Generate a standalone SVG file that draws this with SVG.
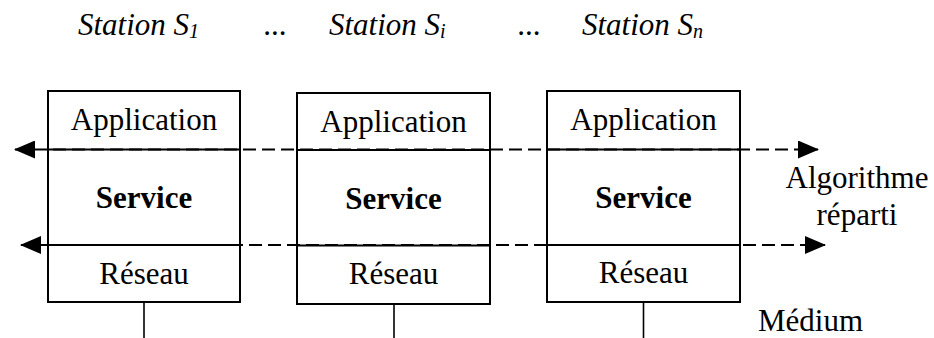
<svg xmlns="http://www.w3.org/2000/svg" width="934" height="338" viewBox="0 0 934 338">
  <style>
    text { font-family: "Liberation Serif", "Times New Roman", serif; font-size: 31px; fill: #000; }
    .title { font-style: italic; }
    .bold { font-weight: bold; }
    .mid { text-anchor: middle; }
    .box { fill: #fff; stroke: #000; stroke-width: 2; }
    .div { stroke: #000; stroke-width: 2; fill: none; }
    .wire { stroke: #000; stroke-width: 1.6; fill: none; }
    .flow { stroke: #000; stroke-width: 2; fill: none; stroke-dasharray: 13 6; }
  </style>
  <defs>
    <marker id="head" markerUnits="userSpaceOnUse" markerWidth="21" markerHeight="18" viewBox="0 0 21 18" refX="20" refY="9" orient="auto-start-reverse">
      <path d="M0,0 L21,9 L0,18 Z" fill="#000"/>
    </marker>
  </defs>

  <!-- station headings -->
  <g id="headings">
    <text class="title" x="78" y="35">Station S<tspan font-size="20" dy="3">1</tspan></text>
    <text class="title" x="264" y="35">...</text>
    <text class="title" x="329" y="35">Station S<tspan font-size="20" dy="3">i</tspan></text>
    <text class="title" x="518" y="35">...</text>
    <text class="title" x="582" y="35">Station S<tspan font-size="20" dy="3">n</tspan></text>
  </g>

  <!-- station 1 -->
  <g id="station1">
    <rect class="box" x="48" y="91" width="192" height="211"/>
    <line class="div" x1="48" y1="149.5" x2="240" y2="149.5"/>
    <line class="div" x1="48" y1="245" x2="240" y2="245"/>
    <text class="mid" x="144" y="130">Application</text>
    <text class="mid bold" x="144" y="208">Service</text>
    <text class="mid" x="144" y="284">Réseau</text>
  </g>

  <!-- station i -->
  <g id="stationi">
    <rect class="box" x="297" y="93" width="193" height="211"/>
    <line class="div" x1="297" y1="150" x2="490" y2="150"/>
    <line class="div" x1="297" y1="245.5" x2="490" y2="245.5"/>
    <text class="mid" x="393.5" y="131.5">Application</text>
    <text class="mid bold" x="393.5" y="209">Service</text>
    <text class="mid" x="393.5" y="284">Réseau</text>
  </g>

  <!-- station n -->
  <g id="stationn">
    <rect class="box" x="547" y="91" width="193" height="211"/>
    <line class="div" x1="547" y1="149.5" x2="740" y2="149.5"/>
    <line class="div" x1="547" y1="245" x2="740" y2="245"/>
    <text class="mid" x="643.5" y="130">Application</text>
    <text class="mid bold" x="643.5" y="208">Service</text>
    <text class="mid" x="643.5" y="283">Réseau</text>
  </g>

  <!-- side labels -->
  <g id="labels">
    <text class="mid" x="857" y="188">Algorithme</text>
    <text class="mid" x="857" y="225">réparti</text>
    <text x="758" y="331">Médium</text>
  </g>

  <!-- connectors: distributed-algorithm flows and medium drops -->
  <g id="connectors">
    <line class="flow" x1="15" y1="149.5" x2="818" y2="149.5" marker-start="url(#head)" marker-end="url(#head)"/>
    <line class="flow" x1="21" y1="245" x2="825" y2="245" marker-start="url(#head)" marker-end="url(#head)"/>
    <line class="wire" x1="144" y1="302" x2="144" y2="338"/>
    <line class="wire" x1="394" y1="304" x2="394" y2="338"/>
    <line class="wire" x1="643.5" y1="302" x2="643.5" y2="338"/>
  </g>
</svg>
